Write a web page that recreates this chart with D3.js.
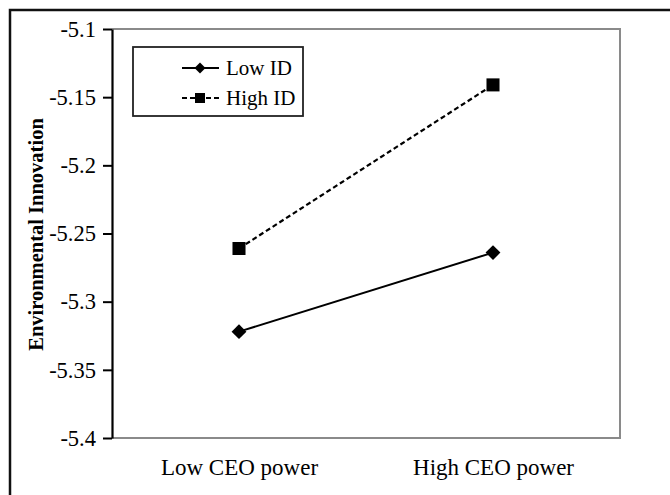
<!DOCTYPE html>
<html><head><meta charset="utf-8">
<script src="https://cdn.jsdelivr.net/npm/d3@7"></script>
<style>body{margin:0;background:#fff}svg{display:block}</style>
</head><body>
<svg id="c" width="670" height="495"></svg>
<script>
const categories = ["Low CEO power", "High CEO power"];
const seriesNames = ["Low ID", "High ID"];
const lowID = [-5.322, -5.264];
const highID = [-5.261, -5.141];
const yTicks = [-5.1, -5.15, -5.2, -5.25, -5.3, -5.35, -5.4];
const yTickLabels = ["-5.1", "-5.15", "-5.2", "-5.25", "-5.3", "-5.35", "-5.4"];

const svg = d3.select("#c");
const font = "'Liberation Serif','Times New Roman',serif";
const L = 112, T = 29, R = 620, B = 438;

// outer frame
svg.append("rect").attr("x", 10).attr("y", 10).attr("width", 680).attr("height", 500)
  .attr("fill", "none").attr("stroke", "#111").attr("stroke-width", 2.5);

const x = d3.scalePoint().domain(categories).range([L, R]).padding(0.5);
const y = d3.scaleLinear().domain([-5.4, -5.1]).range([B, T]);

// plot border (top, right, bottom gray)
svg.append("path").attr("d", `M${L},${T}H${R}V${B}H${L}`)
  .attr("fill", "none").attr("stroke", "#8a8a8a").attr("stroke-width", 2);

// y axis
const yAxis = d3.axisLeft(y).tickValues(yTicks).tickSize(9).tickSizeOuter(0)
  .tickFormat((d, i) => yTickLabels[i]);
const gy = svg.append("g").attr("transform", `translate(${L},0)`).call(yAxis);
gy.attr("font-family", font);
gy.select(".domain").attr("stroke", "#000").attr("stroke-width", 2.2);
gy.selectAll(".tick line").attr("stroke", "#000").attr("stroke-width", 2);
gy.selectAll(".tick text").style("font-family", font).attr("font-size", 22.5).attr("fill", "#000").attr("x", -16);

// x axis labels
const xAxis = d3.axisBottom(x).tickSize(0).tickPadding(21);
const gx = svg.append("g").attr("transform", `translate(0,${B})`).call(xAxis);
gx.attr("font-family", font);
gx.select(".domain").remove();
gx.selectAll(".tick text").style("font-family", font).attr("font-size", 23).attr("fill", "#000");

// y label
svg.append("text").attr("transform", `translate(43,${(T + B) / 2 + 1}) rotate(-90)`)
  .attr("text-anchor", "middle").style("font-family", font).attr("font-weight", "bold")
  .attr("font-size", 20.5).attr("fill", "#000").text("Environmental Innovation");

const line = d3.line().x((d, i) => x(categories[i])).y(d => y(d));
svg.append("path").datum(lowID).attr("d", line).attr("fill", "none")
  .attr("stroke", "#000").attr("stroke-width", 2);
svg.append("path").datum(highID).attr("d", line).attr("fill", "none")
  .attr("stroke", "#000").attr("stroke-width", 2.2).attr("stroke-dasharray", "5,3");

const square = d3.symbol().type(d3.symbolSquare).size(170);
svg.selectAll(".d").data(lowID).join("path")
  .attr("transform", (d, i) => `translate(${x(categories[i])},${y(d)}) rotate(45)`)
  .attr("d", d3.symbol().type(d3.symbolSquare).size(110)).attr("fill", "#000");
svg.selectAll(".s").data(highID).join("path")
  .attr("transform", (d, i) => `translate(${x(categories[i])},${y(d)})`)
  .attr("d", square).attr("fill", "#000");

// legend
const lg = svg.append("g");
lg.append("rect").attr("x", 133).attr("y", 47).attr("width", 170).attr("height", 69)
  .attr("fill", "#fff").attr("stroke", "#222").attr("stroke-width", 1.8);
const rows = [{name: seriesNames[0], y: 68, dash: null, sym: "d"}, {name: seriesNames[1], y: 98, dash: "5,3", sym: "s"}];
rows.forEach(r => {
  lg.append("line").attr("x1", 182).attr("x2", 219).attr("y1", r.y).attr("y2", r.y)
    .attr("stroke", "#000").attr("stroke-width", 2).attr("stroke-dasharray", r.dash);
  if (r.sym === "d") {
    lg.append("path").attr("transform", `translate(200,${r.y}) rotate(45)`)
      .attr("d", d3.symbol().type(d3.symbolSquare).size(60)).attr("fill", "#000");
  } else {
    lg.append("path").attr("transform", `translate(200,${r.y})`)
      .attr("d", d3.symbol().type(d3.symbolSquare).size(100)).attr("fill", "#000");
  }
  lg.append("text").attr("x", 226).attr("y", r.y).attr("dy", "0.35em")
    .style("font-family", font).attr("font-size", 21).attr("fill", "#000").text(r.name);
});
</script>
</body></html>
